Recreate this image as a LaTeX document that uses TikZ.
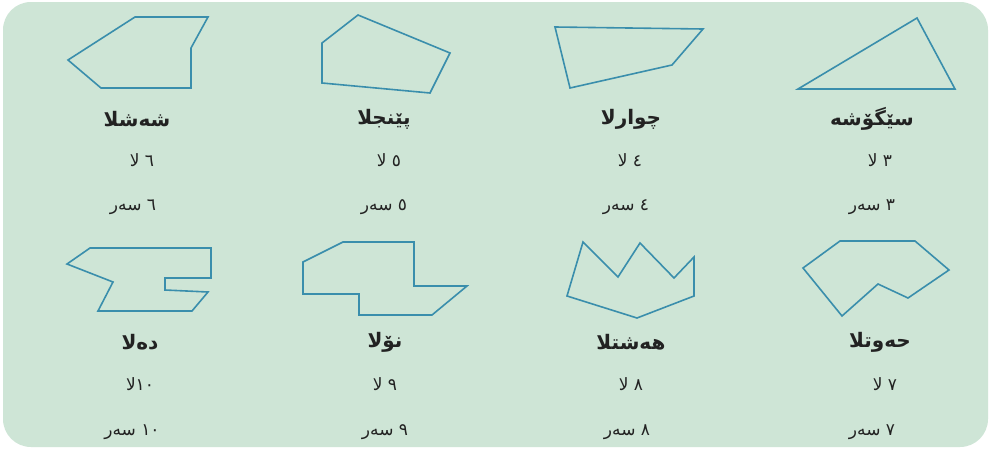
\documentclass[tikz,border=0pt]{standalone}
\usepackage{fontspec}
\TeXXeTstate=1
\newfontfamily\arabicfont[Script=Arabic]{DejaVu Sans}
\usetikzlibrary{positioning}
\definecolor{panelgreen}{RGB}{206,229,214}
\definecolor{edgeblue}{RGB}{58,142,172}
\definecolor{labelink}{RGB}{34,34,34}

\begin{document}
\begin{tikzpicture}[
  x=1pt, y=-1pt,
  panel/.style={fill=panelgreen, draw=none, rounded corners=28pt},
  outline/.style={draw=edgeblue, line width=1.6pt, line join=miter},
  polyname/.style={font=\arabicfont\bfseries\fontsize{20}{22}\selectfont,
    text=labelink, inner sep=1pt},
  polyinfo/.style={font=\arabicfont\fontsize{17}{19}\selectfont,
    text=labelink, inner sep=1pt},
]
  \useasboundingbox (0,0) rectangle (991,450);
  \fill[white] (0,0) rectangle (991,450);
  \path[panel] (3,2) rectangle (988,447);

  % top row: 6, 5, 4, 3 sides
  \draw[outline] (135,17) -- (208,17) -- (191,48) -- (191,88) -- (101,88) -- (68,60) -- cycle;
  \draw[outline] (358,15) -- (450,53) -- (430,93) -- (322,83) -- (322,43) -- cycle;
  \draw[outline] (555,27) -- (703,29) -- (672,65) -- (570,88) -- cycle;
  \draw[outline] (917,18) -- (955,89) -- (798,89) -- cycle;

  % bottom row: 10, 9, 8, 7 sides
  \draw[outline] (90,248) -- (211,248) -- (211,278) -- (165,278) -- (165,290) -- (208,292)
    -- (192,311) -- (98,311) -- (113,282) -- (67,264) -- cycle;
  \draw[outline] (343,242) -- (414,242) -- (414,286) -- (467,286) -- (432,315) -- (359,315)
    -- (359,294) -- (303,294) -- (303,262) -- cycle;
  \draw[outline] (583,242) -- (618,277) -- (640,243) -- (674,278) -- (694,257) -- (694,296)
    -- (637,318) -- (567,296) -- cycle;
  \draw[outline] (840,241) -- (915,241) -- (949,270) -- (908,298) -- (878,284) -- (842,316)
    -- (803,268) -- cycle;

  % hexagon
  \node[polyname] (hexname) at (137,119) {\beginR شەشلا\endR};
  \node[polyinfo] (hexsides) at (142,160) {\beginR ٦ لا\endR};
  \node[polyinfo] (hexverts) at (133,207) {\beginR ٦ سەر\endR};

  % pentagon
  \node[polyname] (pentname) at (384,119) {\beginR پێنجلا\endR};
  \node[polyinfo] (pentsides) at (389,160) {\beginR ٥ لا\endR};
  \node[polyinfo] (pentverts) at (384,207) {\beginR ٥ سەر\endR};

  % quadrilateral
  \node[polyname] (quadname) at (631,119) {\beginR چوارلا\endR};
  \node[polyinfo] (quadsides) at (630,160) {\beginR ٤ لا\endR};
  \node[polyinfo] (quadverts) at (626,207) {\beginR ٤ سەر\endR};

  % triangle
  \node[polyname] (triname) at (872,119) {\beginR سێگۆشە\endR};
  \node[polyinfo] (trisides) at (880,160) {\beginR ٣ لا\endR};
  \node[polyinfo] (triverts) at (872,207) {\beginR ٣ سەر\endR};

  % decagon
  \node[polyname] (decname) at (140,342) {\beginR دەلا\endR};
  \node[polyinfo] (decsides) at (140,384) {\beginR ١٠لا\endR};
  \node[polyinfo] (decverts) at (132,432) {\beginR ١٠ سەر\endR};

  % nonagon
  \node[polyname] (nonname) at (385,342) {\beginR نۆلا\endR};
  \node[polyinfo] (nonsides) at (385,384) {\beginR ٩ لا\endR};
  \node[polyinfo] (nonverts) at (385,432) {\beginR ٩ سەر\endR};

  % octagon
  \node[polyname] (octname) at (631,342) {\beginR هەشتلا\endR};
  \node[polyinfo] (octsides) at (631,384) {\beginR ٨ لا\endR};
  \node[polyinfo] (octverts) at (627,432) {\beginR ٨ سەر\endR};

  % heptagon
  \node[polyname] (heptname) at (880,342) {\beginR حەوتلا\endR};
  \node[polyinfo] (heptsides) at (885,384) {\beginR ٧ لا\endR};
  \node[polyinfo] (heptverts) at (872,432) {\beginR ٧ سەر\endR};
\end{tikzpicture}
\end{document}
